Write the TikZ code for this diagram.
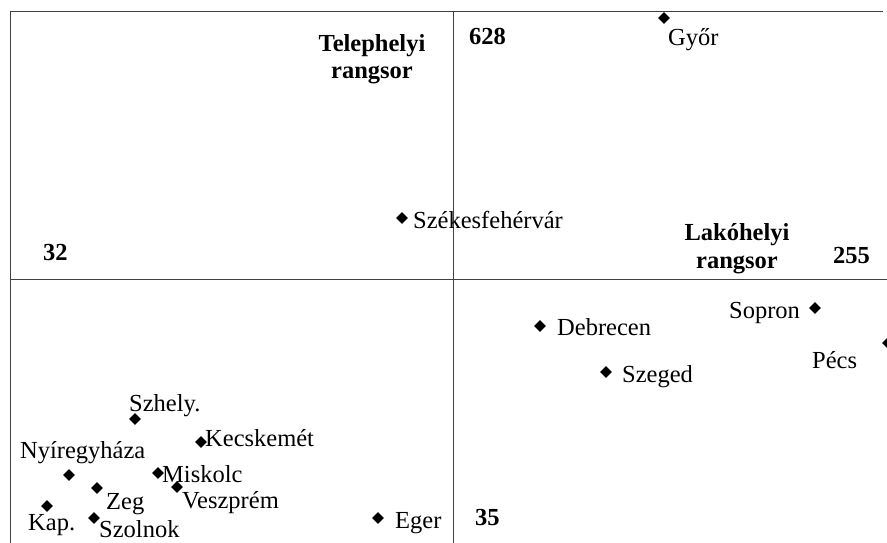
\documentclass[tikz,border=0pt]{standalone}
\usepackage{fontspec}
\setmainfont{Liberation Serif}
\usetikzlibrary{shapes.geometric}
\begin{document}
\begin{tikzpicture}[x=1pt,y=-1pt,
  axisline/.style={draw=black!75,line width=0.9pt},
  pt/.style={diamond,fill=black,inner sep=0pt,minimum size=12pt},
  lbl/.style={anchor=base west,inner sep=0pt,font=\fontsize{24.5}{28}\selectfont},
  blbl/.style={anchor=base west,inner sep=0pt,font=\fontsize{24.5}{28}\selectfont\bfseries},
  title/.style={align=center,inner sep=0pt,font=\fontsize{24.5}{27.5}\selectfont\bfseries}]
\useasboundingbox (0,0) rectangle (887,543);
\clip (0,0) rectangle (887,543);
% frame and axes
\coordinate (tl) at (10,11);
\coordinate (tr) at (883,11);
\coordinate (bl) at (10,543);
\coordinate (vt) at (453,11);
\coordinate (vb) at (453,543);
\coordinate (hl) at (10,279);
\coordinate (hr) at (887,279);
\draw[axisline] (bl) -- (tl) -- (tr);
\draw[axisline] (vt) -- (vb);
\draw[axisline] (hl) -- (hr);
% axis labels
\node[title,anchor=base] (tel) at (372,79) {Telephelyi\\rangsor};
\node[title,anchor=base] (lak) at (737,268) {Lakóhelyi\\rangsor};
\node[blbl] (n628) at (469,45) {628};
\node[blbl] (n32) at (43,260) {32};
\node[blbl] (n255) at (833,263) {255};
\node[blbl] (n35) at (475,525) {35};
% points
\node[pt] (pgyor) at (664,18) {};
\node[lbl] (tgyor) at (668,46) {Győr};
\node[pt] (pszek) at (402,218) {};
\node[lbl] (tszek) at (413,228) {Székesfehérvár};
\node[pt] (psop) at (815,308) {};
\node[lbl] (tsop) at (729,318) {Sopron};
\node[pt] (pdeb) at (540,326) {};
\node[lbl] (tdeb) at (557,335) {Debrecen};
\node[pt] (psze) at (606,372) {};
\node[lbl] (tsze) at (622,382) {Szeged};
\node[pt] (ppec) at (888,343) {};
\node[lbl] (tpec) at (812,368) {Pécs};
\node[pt] (pszh) at (135,419) {};
\node[lbl] (tszh) at (129,411) {Szhely.};
\node[pt] (pkec) at (201,442) {};
\node[lbl] (tkec) at (205,446) {Kecskemét};
\node[pt] (pnyi) at (69,475) {};
\node[lbl] (tnyi) at (20,458) {Nyíregyháza};
\node[pt] (pmis) at (158,473) {};
\node[lbl] (tmis) at (162,482) {Miskolc};
\node[pt] (pves) at (177,487) {};
\node[lbl] (tves) at (182,508) {Veszprém};
\node[pt] (pzeg) at (97,488) {};
\node[lbl] (tzeg) at (106,509) {Zeg};
\node[pt] (pkap) at (47,506) {};
\node[lbl] (tkap) at (28,530) {Kap.};
\node[pt] (pszo) at (94,518) {};
\node[lbl] (tszo) at (99,537) {Szolnok};
\node[pt] (pege) at (378,518) {};
\node[lbl] (tege) at (395,528) {Eger};
\end{tikzpicture}
\end{document}
